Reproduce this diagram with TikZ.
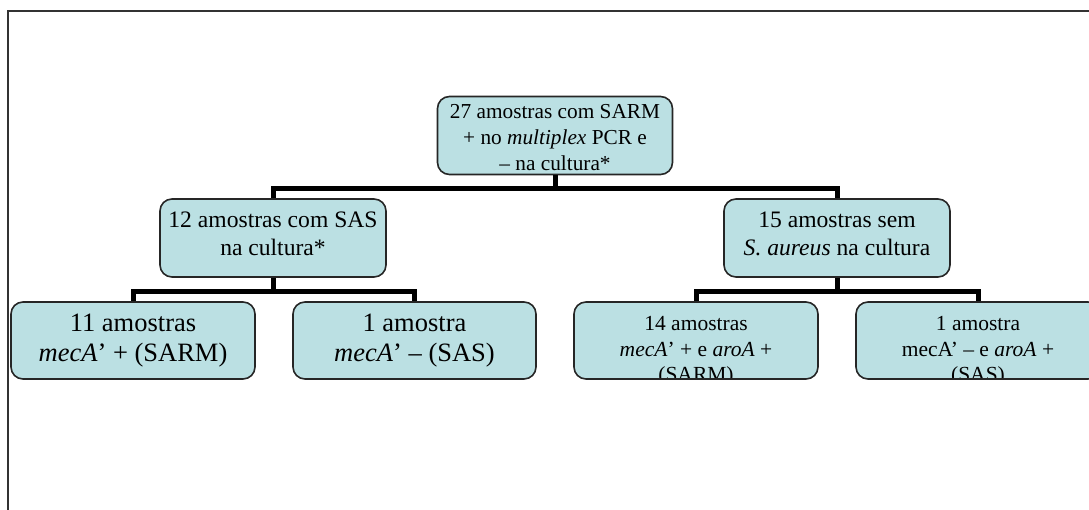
\documentclass[tikz,border=0pt]{standalone}
\usepackage{fontspec}
\setmainfont{Liberation Serif}
\definecolor{caixa}{RGB}{187,224,227}

\begin{document}
\begin{tikzpicture}[x=1pt, y=-1pt, box/.style={draw=black!85, line width=1.6pt, fill=caixa, rounded corners=12pt, align=center, inner sep=0pt, minimum height=78pt}, tie/.style={line width=5pt}, cut/.style={minimum size=0pt, inner sep=0pt, align=center, draw=none, fill=none}]
  \useasboundingbox (0,0) rectangle (1089,510);
  \clip (0,0) rectangle (1089,510);
  \draw[line width=2pt, black!80] (8,515) -- (8,11) -- (1095,11);
  \node[box, minimum width=235pt, font=\fontsize{21.3}{26}\selectfont] (root) at (555,135.5) {\rule{0pt}{0.85em}27 amostras com SARM\\+ no \textit{multiplex} PCR e\\– na cultura*};
  \node[box, minimum width=226pt, font=\fontsize{23.6}{28}\selectfont] (sas) at (273,238) {12 amostras com SAS\\na cultura*\rule[-8pt]{0pt}{1pt}};
  \node[box, minimum width=226pt, font=\fontsize{23.6}{28}\selectfont] (sem) at (837,238) {15 amostras sem\\\textit{S. aureus} na cultura\rule[-8pt]{0pt}{1pt}};
  \node[box, minimum width=244pt, minimum height=77pt, font=\fontsize{26.5}{30}\selectfont] (sarmA) at (133,340.5) {11 amostras\\\textit{mecA}’ + (SARM)};
  \node[box, minimum width=243pt, minimum height=77pt, font=\fontsize{26.5}{30}\selectfont] (sasA) at (414.5,340.5) {1 amostra\\\textit{mecA}’ – (SAS)};
  \node[box, minimum width=244pt, minimum height=77pt, path picture={\node[cut, font=\fontsize{21.5}{25.5}\selectfont] at ([yshift=-11pt]path picture bounding box.center) {14 amostras\\\textit{mecA}’ + e \textit{aroA} +\\(SARM)};}] (sarmB) at (696,340.5) {};
  \node[box, minimum width=244pt, minimum height=77pt, path picture={\node[cut, font=\fontsize{21.5}{25.5}\selectfont] at ([yshift=-11pt]path picture bounding box.center) {1 amostra\\mecA’ – e \textit{aroA} +\\(SAS)};}] (sasB) at (978,340.5) {};
  \draw[tie] (root.south) -- ++(0,13) -| (sas.north);
  \draw[tie] (root.south) -- ++(0,13) -| (sem.north);
  \draw[tie] (sas.south) -- ++(0,14) -| (sarmA.north);
  \draw[tie] (sas.south) -- ++(0,14) -| (sasA.north);
  \draw[tie] (sem.south) -- ++(0,14) -| (sarmB.north);
  \draw[tie] (sem.south) -- ++(0,14) -| (sasB.north);
\end{tikzpicture}
\end{document}
